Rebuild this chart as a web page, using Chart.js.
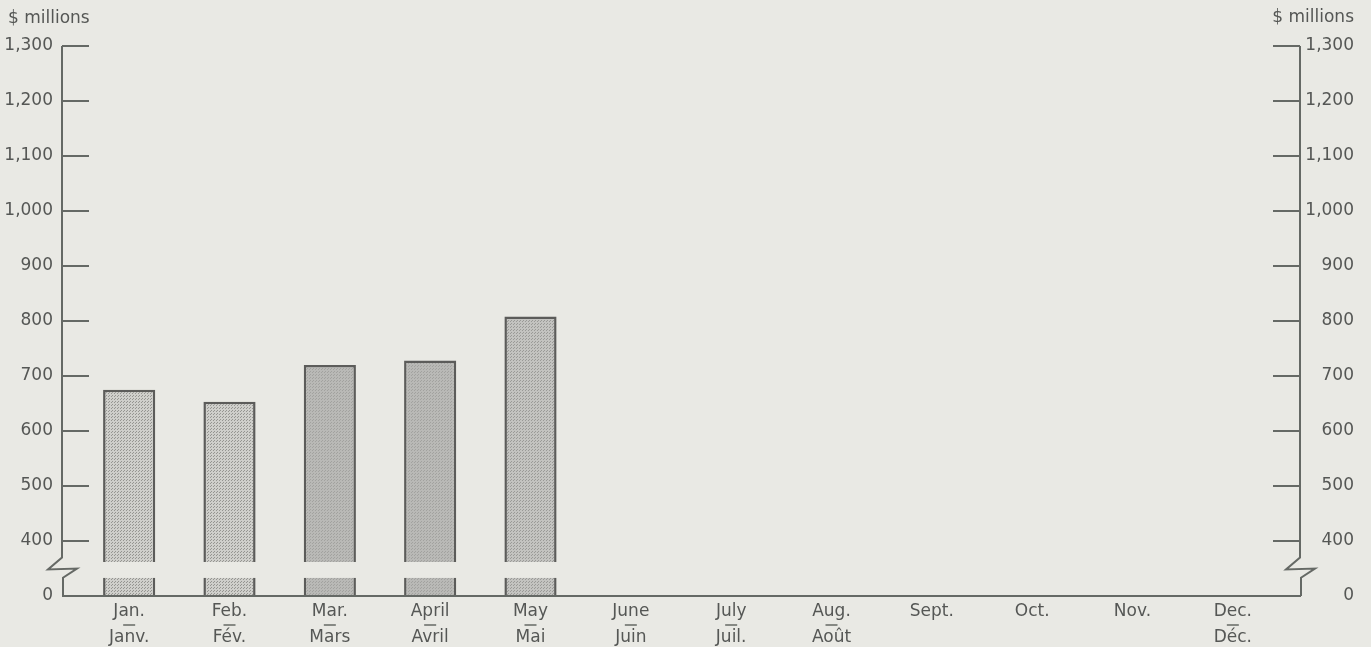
<!DOCTYPE html>
<html>
<head>
<meta charset="utf-8">
<script src="https://cdn.jsdelivr.net/npm/chart.js@4"></script>
<style>
  body { margin: 0; background: #e9e9e4; }
  canvas { display: block; }
</style>
</head>
<body>
<canvas id="chart" width="1371" height="647"></canvas>
<script>
const monthsEn = ['Jan.', 'Feb.', 'Mar.', 'April', 'May', 'June', 'July', 'Aug.', 'Sept.', 'Oct.', 'Nov.', 'Dec.']
const monthsFr = ['Janv.', 'Fév.', 'Mars', 'Avril', 'Mai', 'Juin', 'Juil.', 'Août', '', '', '', 'Déc.']
const values = [675, 653, 720, 728, 808, null, null, null, null, null, null, null]
const yTicks = [0, 400, 500, 600, 700, 800, 900, 1000, 1100, 1200, 1300]

// broken axis: "0" sits where 300 would be, bars are cut between breakLow and breakHigh
const axisFloor = 300
const breakLow = 333
const breakHigh = 362
const zigTop = 370
const zigBottom = 335

const textColor = '#555755'
const lineColor = '#656965'
const font = { family: '"DejaVu Sans", sans-serif', size: 17 }
const labelLine = 26
const labelPad = 3

function stipple(base, dot) {
    const c = document.createElement('canvas')
    c.width = 3
    c.height = 3
    const ctx = c.getContext('2d')
    ctx.fillStyle = base
    ctx.fillRect(0, 0, 3, 3)
    ctx.fillStyle = dot
    ctx.fillRect(0, 0, 1, 1)
    ctx.fillRect(1, 2, 1, 1)
    return ctx.createPattern(c, 'repeat')
}

const light = stipple('#cfcfcb', '#959591')
const dark = stipple('#b9b9b6', '#a2a29f')
const mid = stipple('#c3c3c0', '#9a9a97')
const barFills = [light, light, dark, dark, mid, light, light, light, light, light, light, light]

const labels = monthsEn.map((m, i) => monthsFr[i] ? [m, monthsFr[i]] : m)
const topBars = values.map(v => v == null ? null : [breakHigh, v])
const stubBars = values.map(v => v == null ? null : [axisFloor, breakLow])

const yAxis = (position, width) => ({
    type: 'linear',
    position: position,
    min: axisFloor,
    max: 1300,
    grid: { display: false, drawTicks: false },
    border: { display: false },
    afterBuildTicks: s => { s.ticks = yTicks.map(v => ({ value: v === 0 ? axisFloor : v })) },
    afterFit: s => { s.width = width },
    ticks: {
        color: textColor,
        font: font,
        padding: position === 'left' ? 26 : 0,
        crossAlign: position === 'left' ? 'near' : 'far',
        callback: v => v === axisFloor ? '0' : v.toLocaleString('en-US')
    }
})

const axesPlugin = {
    id: 'axes',
    beforeDraw(chart) {
        const ctx = chart.ctx
        ctx.save()
        ctx.fillStyle = '#e9e9e4'
        ctx.fillRect(0, 0, chart.width, chart.height)
        ctx.restore()
    },
    afterDraw(chart) {
        const ctx = chart.ctx
        const area = chart.chartArea
        const y = chart.scales.y
        const x = chart.scales.x
        const leftX = area.left - 17
        const rightX = area.right + 17
        const yZigTop = y.getPixelForValue(zigTop)
        const yZigBot = y.getPixelForValue(zigBottom)
        const yBase = y.getPixelForValue(axisFloor)

        ctx.save()
        ctx.strokeStyle = lineColor
        ctx.lineWidth = 2
        ctx.lineJoin = 'miter'

        // axis lines with break marks
        ;[[leftX, 1], [rightX, -1]].forEach(([ax, dir]) => {
            const yTop = y.getPixelForValue(1300)
            ctx.beginPath()
            ctx.moveTo(ax, yTop)
            ctx.lineTo(ax, yZigTop)
            ctx.lineTo(ax - 14, yZigTop + 12)
            ctx.lineTo(ax + 15, yZigTop + 11)
            ctx.lineTo(ax + 1, yZigBot + 1)
            ctx.lineTo(ax + 1, yBase)
            ctx.stroke()

            yTicks.filter(v => v !== 0).forEach(v => {
                const py = y.getPixelForValue(v)
                ctx.beginPath()
                ctx.moveTo(ax, py)
                ctx.lineTo(ax + dir * 27, py)
                ctx.stroke()
            })
        })

        ctx.beginPath()
        ctx.moveTo(leftX, yBase)
        ctx.lineTo(rightX + 1, yBase)
        ctx.stroke()

        // short rule between english and french month names
        ctx.lineWidth = 1.5
        monthsFr.forEach((fr, i) => {
            if (!fr) return
            const px = x.getPixelForTick(i)
            const py = x.top + labelPad + labelLine
            ctx.beginPath()
            ctx.moveTo(px - 6, py)
            ctx.lineTo(px + 6, py)
            ctx.stroke()
        })

        ctx.fillStyle = textColor
        ctx.font = `${font.size}px ${font.family}`
        ctx.textBaseline = 'middle'
        ctx.textAlign = 'left'
        ctx.fillText('$ millions', chart.scales.y.left + 8, area.top - 27)
        ctx.textAlign = 'right'
        ctx.fillText('$ millions', chart.scales.y2.right, area.top - 28)
        ctx.restore()
    }
}

new Chart(document.getElementById('chart'), {
    type: 'bar',
    data: {
        labels: labels,
        datasets: [{
            data: stubBars,
            grouped: false,
            backgroundColor: barFills,
            borderColor: '#5c5c5a',
            borderWidth: { left: 2.5, right: 2.5, top: 0, bottom: 0 },
            borderSkipped: false,
            barPercentage: 0.52,
            categoryPercentage: 1
        }, {
            data: topBars,
            grouped: false,
            backgroundColor: barFills,
            borderColor: '#5c5c5a',
            borderWidth: { left: 2.5, right: 2.5, top: 2.5, bottom: 0 },
            borderSkipped: false,
            barPercentage: 0.52,
            categoryPercentage: 1
        }]
    },
    options: {
        responsive: false,
        animation: false,
        layout: { padding: { top: 46, right: 17, bottom: 0, left: 0 } },
        plugins: {
            legend: { display: false },
            tooltip: { enabled: false }
        },
        scales: {
            x: {
                grid: { display: false, drawTicks: false },
                border: { display: false },
                afterFit: s => { s.height = 51 },
                ticks: {
                    color: textColor,
                    font: Object.assign({}, font, { lineHeight: labelLine + 'px' }),
                    padding: labelPad,
                    maxRotation: 0,
                    autoSkip: false
                }
            },
            y: yAxis('left', 79),
            y2: yAxis('right', 71)
        }
    },
    plugins: [axesPlugin]
})
</script>
</body>
</html>
